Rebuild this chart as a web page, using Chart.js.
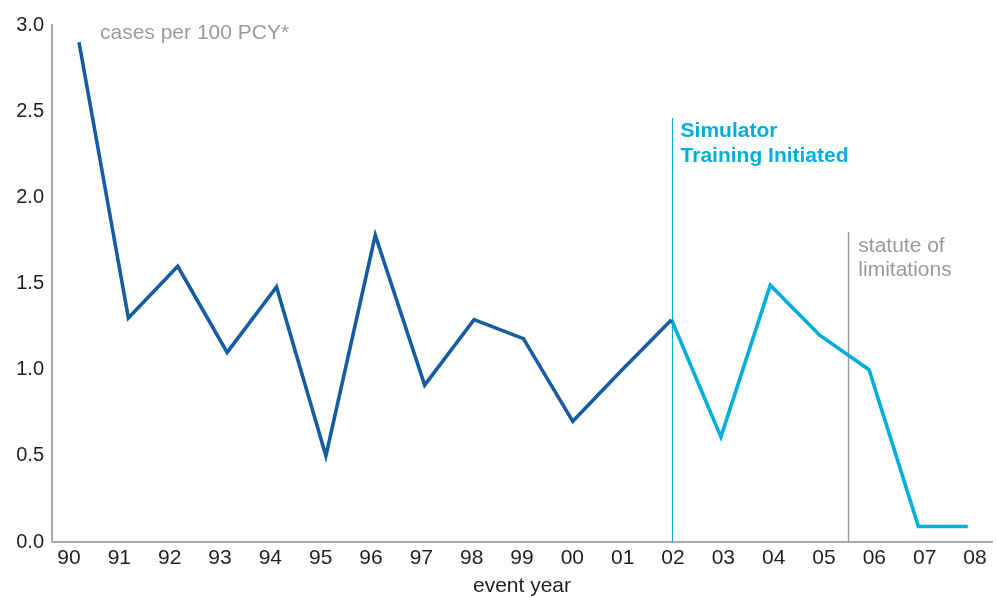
<!DOCTYPE html>
<html>
<head>
<meta charset="utf-8">
<script src="https://cdn.jsdelivr.net/npm/chart.js@4/dist/chart.umd.min.js"></script>
<style>
  html, body { margin: 0; padding: 0; background: #ffffff; }
  #wrap { width: 996px; height: 598px; position: relative; }
</style>
</head>
<body>
<div id="wrap"><canvas id="chart" width="996" height="598"></canvas></div>
<script>
// Event years shown on the horizontal axis
const years = ['90','91','92','93','94','95','96','97','98','99','00','01','02','03','04','05','06','07','08'];

// Cases per 100 PCY by event year
const rates = [2.90, 1.30, 1.60, 1.10, 1.48, 0.50, 1.78, 0.91, 1.29, 1.18, 0.70, 1.00, 1.29, 0.61, 1.49, 1.20, 1.00, 0.09, 0.09];

// Index of the year simulator training began, and where the statute of limitations cuts in
const trainingStartIndex = 12;
const statuteIndex = 15.58;

// Y axis tick values
const yTicks = [0, 0.5, 1.0, 1.5, 2.0, 2.5, 3.0];

const DARK = '#155da3';
const CYAN = '#00aedb';
const GREY_TEXT = '#9a9a9a';
const AXIS = '#ababab';
const INK = '#231f20';
const FONT = 'Liberation Sans, Arial, Helvetica, sans-serif';

const beforeTraining = rates.map((v, i) => ({ x: i, y: i <= trainingStartIndex ? v : null }));
const afterTraining = rates.map((v, i) => ({ x: i, y: i >= trainingStartIndex ? v : null }));

// Reference lines and captions
const notes = {
  id: 'notes',
  beforeDatasetsDraw(chart) {
    const { ctx, chartArea } = chart;
    const xs = chart.scales.x, ys = chart.scales.y;
    ctx.save();
    ctx.lineCap = 'butt';
    // training start
    const xT = Math.round(xs.getPixelForValue(trainingStartIndex)) + 0.5;
    ctx.strokeStyle = CYAN;
    ctx.lineWidth = 1.2;
    ctx.beginPath();
    ctx.moveTo(xT, ys.getPixelForValue(2.46));
    ctx.lineTo(xT, chartArea.bottom);
    ctx.stroke();
    // statute of limitations
    const xS = Math.round(xs.getPixelForValue(statuteIndex)) + 0.5;
    ctx.strokeStyle = '#9b9b9b';
    ctx.lineWidth = 1.4;
    ctx.beginPath();
    ctx.moveTo(xS, ys.getPixelForValue(1.80));
    ctx.lineTo(xS, chartArea.bottom);
    ctx.stroke();
    ctx.restore();
  },
  afterDraw(chart) {
    const { ctx } = chart;
    const xs = chart.scales.x;
    const xT = xs.getPixelForValue(trainingStartIndex);
    const xS = xs.getPixelForValue(statuteIndex);
    ctx.save();
    ctx.textAlign = 'left';
    ctx.textBaseline = 'alphabetic';

    ctx.fillStyle = GREY_TEXT;
    ctx.font = '21px ' + FONT;
    ctx.fillText('cases per 100 PCY*', 100, 39);

    ctx.fillStyle = CYAN;
    ctx.font = 'bold 21px ' + FONT;
    ctx.fillText('Simulator', xT + 9, 137);
    ctx.fillText('Training Initiated', xT + 9, 162);

    ctx.fillStyle = GREY_TEXT;
    ctx.font = '21px ' + FONT;
    ctx.fillText('statute of', xS + 10, 252);
    ctx.fillText('limitations', xS + 10, 276);
    ctx.restore();
  }
};

new Chart(document.getElementById('chart'), {
  type: 'line',
  data: {
    datasets: [
      {
        data: beforeTraining,
        borderColor: DARK,
        borderWidth: 3.6,
        pointRadius: 0,
        tension: 0,
        spanGaps: false,
        borderJoinStyle: 'miter',
        xAxisID: 'x'
      },
      {
        data: afterTraining,
        borderColor: CYAN,
        borderWidth: 3.6,
        pointRadius: 0,
        tension: 0,
        spanGaps: false,
        borderJoinStyle: 'miter',
        xAxisID: 'x'
      }
    ]
  },
  options: {
    responsive: false,
    animation: false,
    events: [],
    layout: { padding: { top: 25, right: 4, left: 0, bottom: 0 } },
    plugins: { legend: { display: false }, tooltip: { enabled: false } },
    scales: {
      x: {
        type: 'linear',
        display: false,
        min: -0.547,
        max: 18.49
      },
      years: {
        type: 'linear',
        position: 'bottom',
        min: -0.338,
        max: 18.338,
        afterBuildTicks(scale) { scale.ticks = years.map((_, i) => ({ value: i })); },
        afterFit(scale) { scale.height = 56; },
        grid: { display: false, drawTicks: false },
        border: { display: true, color: AXIS, width: 2 },
        ticks: {
          autoSkip: false,
          maxRotation: 0,
          padding: 4,
          color: INK,
          font: { family: FONT, size: 21 },
          callback: (v) => years[v]
        },
        title: {
          display: true,
          text: 'event year',
          color: INK,
          font: { family: FONT, size: 21, lineHeight: 1 },
          padding: { top: 0, bottom: 1 }
        }
      },
      y: {
        type: 'linear',
        min: 0,
        max: 3,
        afterBuildTicks(scale) { scale.ticks = yTicks.map(v => ({ value: v })); },
        afterFit(scale) { scale.width = 52; },
        grid: { display: false, drawTicks: false },
        border: { display: true, color: AXIS, width: 2 },
        ticks: {
          padding: 8,
          color: INK,
          font: { family: FONT, size: 20 },
          callback: (v) => Number(v).toFixed(1)
        }
      }
    }
  },
  plugins: [notes]
});
</script>
</body>
</html>
